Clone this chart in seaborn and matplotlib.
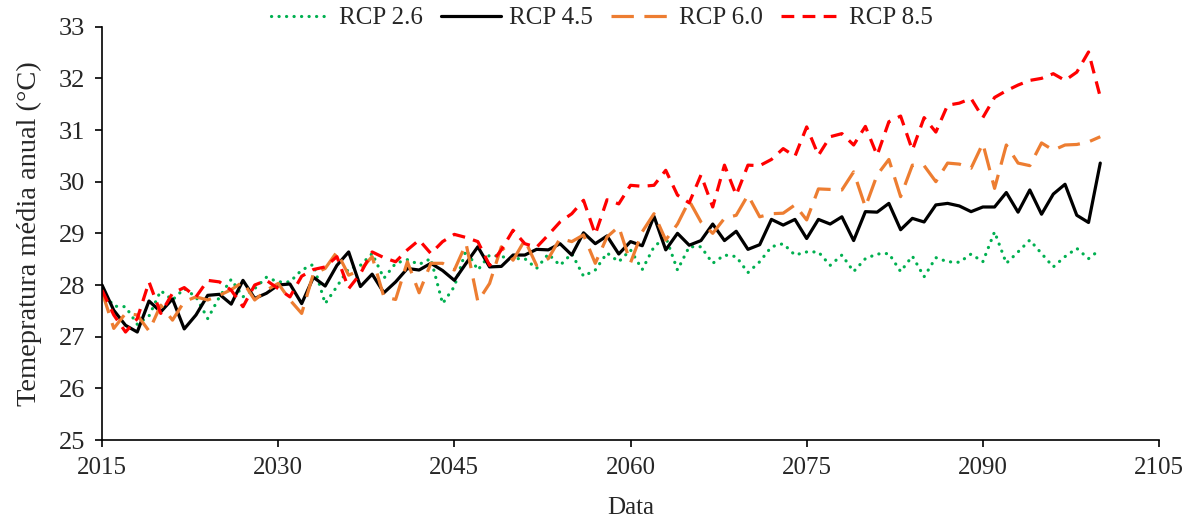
import matplotlib
matplotlib.use("Agg")
import matplotlib.pyplot as plt
import seaborn as sns
import numpy as np
import pandas as pd

years = list(range(2015, 2101))

rcp26 = [27.90, 27.59, 27.58, 27.24, 27.40, 27.89, 27.71, 27.93, 27.77, 27.35,
         27.77, 28.11, 27.77, 27.93, 28.15, 28.06, 28.06, 28.29, 28.40, 27.64,
         27.97, 28.32, 28.38, 28.61, 28.13, 28.42, 28.49, 28.40, 28.51, 27.64,
         27.97, 28.68, 28.29, 28.58, 28.55, 28.51, 28.51, 28.32, 28.60, 28.38,
         28.61, 28.17, 28.29, 28.62, 28.45, 28.68, 28.30, 28.74, 28.93, 28.29,
         28.74, 28.74, 28.42, 28.58, 28.55, 28.24, 28.45, 28.74, 28.80, 28.58,
         28.64, 28.64, 28.38, 28.58, 28.26, 28.51, 28.60, 28.61, 28.26, 28.56,
         28.16, 28.53, 28.45, 28.44, 28.60, 28.45, 29.03, 28.42, 28.64, 28.87,
         28.61, 28.35, 28.55, 28.71, 28.51, 28.69]

rcp45 = [28.00, 27.51, 27.22, 27.09, 27.69, 27.48, 27.73, 27.15, 27.42, 27.80,
         27.82, 27.63, 28.09, 27.74, 27.84, 28.00, 28.02, 27.64, 28.15, 27.98,
         28.38, 28.64, 27.97, 28.21, 27.85, 28.06, 28.32, 28.29, 28.42, 28.28,
         28.09, 28.42, 28.74, 28.35, 28.36, 28.58, 28.58, 28.69, 28.68, 28.80,
         28.58, 29.01, 28.80, 28.95, 28.60, 28.84, 28.76, 29.33, 28.68, 29.00,
         28.77, 28.86, 29.18, 28.86, 29.04, 28.69, 28.78, 29.27, 29.16, 29.27,
         28.90, 29.27, 29.18, 29.32, 28.86, 29.42, 29.41, 29.58, 29.07, 29.29,
         29.22, 29.55, 29.58, 29.53, 29.42, 29.51, 29.51, 29.79, 29.41, 29.84,
         29.37, 29.76, 29.95, 29.35, 29.21, 30.36]

rcp60 = [27.87, 27.16, 27.45, 27.42, 27.11, 27.61, 27.32, 27.68, 27.77, 27.71,
         27.80, 27.91, 28.06, 27.71, 27.90, 28.03, 27.71, 27.45, 28.22, 28.32,
         28.64, 28.19, 28.29, 28.55, 27.77, 27.72, 28.45, 27.85, 28.42, 28.42,
         28.29, 28.80, 27.68, 28.03, 28.74, 28.48, 28.87, 28.38, 28.51, 28.90,
         28.84, 28.97, 28.42, 28.93, 29.13, 28.43, 29.03, 29.38, 28.87, 29.18,
         29.63, 29.22, 29.00, 29.29, 29.35, 29.74, 29.32, 29.38, 29.39, 29.55,
         29.26, 29.86, 29.85, 29.84, 30.19, 29.51, 30.13, 30.43, 29.71, 30.32,
         30.31, 30.00, 30.36, 30.34, 30.26, 30.74, 29.87, 30.71, 30.36, 30.31,
         30.75, 30.61, 30.71, 30.72, 30.77, 30.87]

rcp85 = [27.90, 27.42, 27.09, 27.35, 28.06, 27.45, 27.84, 27.95, 27.77, 28.09,
         28.06, 27.90, 27.58, 28.00, 28.09, 27.93, 27.77, 28.17, 28.30, 28.35,
         28.55, 27.93, 28.22, 28.64, 28.53, 28.45, 28.68, 28.87, 28.61, 28.84,
         28.98, 28.92, 28.84, 28.38, 28.68, 29.06, 28.80, 28.73, 28.97, 29.22,
         29.38, 29.64, 28.98, 29.65, 29.57, 29.93, 29.91, 29.93, 30.22, 29.74,
         29.59, 30.13, 29.51, 30.32, 29.74, 30.32, 30.31, 30.43, 30.64, 30.49,
         31.06, 30.51, 30.87, 30.93, 30.71, 31.07, 30.51, 31.16, 31.27, 30.61,
         31.24, 30.96, 31.48, 31.52, 31.61, 31.24, 31.63, 31.76, 31.87, 31.96,
         32.00, 32.09, 31.96, 32.12, 32.51, 31.64]

labels = ["RCP 2.6", "RCP 4.5", "RCP 6.0", "RCP 8.5"]
xticks = [2015, 2030, 2045, 2060, 2075, 2090, 2105]
yticks = [25, 26, 27, 28, 29, 30, 31, 32, 33]

sns.set_style("ticks")
plt.rcParams["font.family"] = ["Liberation Serif", "DejaVu Serif"]
plt.rcParams["font.size"] = 18

fig = plt.figure(figsize=(11.92, 5.19), dpi=100)
ax = fig.add_axes([0.0856, 0.1522, 0.8867, 0.7964])

series = [rcp26, rcp45, rcp60, rcp85]
colors = ["#00B050", "#000000", "#ED7D31", "#FF0000"]
styles = [(0, (0.05, 2.3)), "-", (0, (7.0, 3.3)), (0, (4.0, 2.6))]
caps = ["round", "butt", "butt", "butt"]

for vals, lab, col, ls, cap in zip(series, labels, colors, styles, caps):
    df = pd.DataFrame({"Ano": years, "Temp": vals})
    sns.lineplot(data=df, x="Ano", y="Temp", ax=ax, color=col, linestyle=ls,
                 linewidth=2.3, label=lab, dash_capstyle=cap)

ax.set_xlim(2015, 2105)
ax.set_ylim(25, 33)
ax.set_xticks(xticks)
ax.set_yticks(yticks)
ax.tick_params(axis="both", direction="out", length=5, width=1.2, color="black")
ax.tick_params(axis="x", labelsize=18, pad=7)
ax.tick_params(axis="y", labelsize=19, pad=7)
for s in ["top", "right"]:
    ax.spines[s].set_visible(False)
for s in ["left", "bottom"]:
    ax.spines[s].set_linewidth(1.2)
    ax.spines[s].set_color("black")

ax.set_xlabel("Data", fontsize=18, labelpad=13)
ax.set_ylabel("Temepratura média anual (°C)", fontsize=20.5, labelpad=12)

ax.legend_.remove()
handles, labs = ax.get_legend_handles_labels()
fig.legend(handles, labs, loc="center", bbox_to_anchor=(0.505, 0.965), ncol=4,
           frameon=False, fontsize=18, handlelength=2.4, handletextpad=0.3,
           columnspacing=0.75, borderaxespad=0)

fig.savefig("out.png", dpi=100)
